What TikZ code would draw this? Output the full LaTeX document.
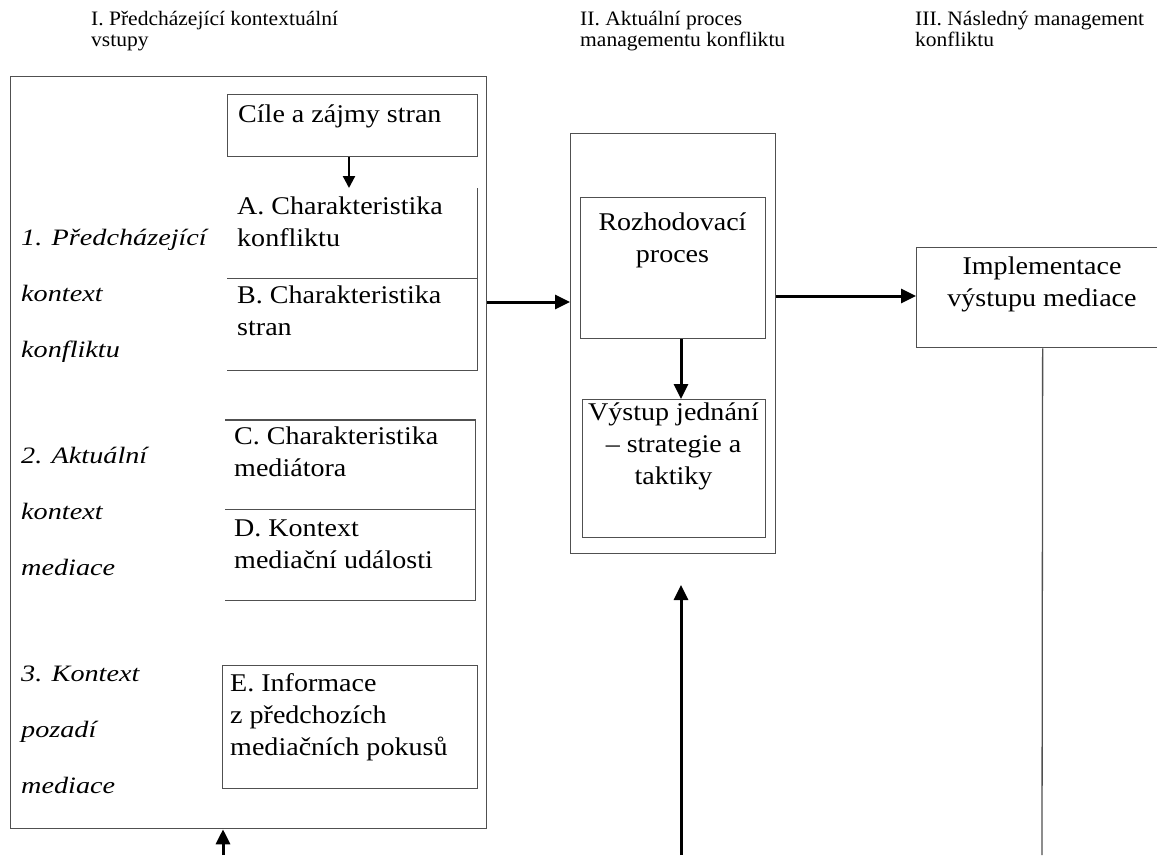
\documentclass[tikz,border=0pt]{standalone}
\usepackage{fontspec}
\setmainfont{Liberation Serif}
\newfontfamily\boxfont{Liberation Serif}[FakeStretch=1.1]
\newfontfamily\headfont{Liberation Serif}[FakeStretch=1.05]
\newfontfamily\sidefont{Liberation Serif}[FakeStretch=1.2]
\usetikzlibrary{arrows.meta}

\definecolor{edge}{HTML}{505050}

% multi-line nodes are placed by the baseline of their last line
\tikzset{
  frame/.style={draw=edge, line width=1.3pt, inner sep=0pt, anchor=north west},
  slot/.style={draw=none, inner sep=0pt, anchor=north west},
  rule/.style={draw=edge, line width=1.3pt},
  boxtext/.style={font=\boxfont\fontsize{25.5}{32}\selectfont, inner sep=0pt},
  heading/.style={font=\headfont\fontsize{20.5}{21}\selectfont, align=left, inner sep=0pt, anchor=base west},
  side/.style={font=\sidefont\itshape\fontsize{23.5}{56}\selectfont, align=left, inner sep=0pt, anchor=base west},
  arr/.style={line width=3pt, -{Triangle[length=15pt,width=14pt]}},
  smallarr/.style={line width=2.2pt, -{Triangle[length=12pt,width=12pt]}}
}

\begin{document}
\begin{tikzpicture}[x=1pt,y=-1pt]
  \useasboundingbox (0,0) rectangle (1157,855);
  \clip (0,0) rectangle (1157,855);

  % column headings
  \node[heading] (h1) at (91,46) {I. Předcházející kontextuální\\vstupy};
  \node[heading] (h2) at (580,46) {II. Aktuální proces\\managementu konfliktu};
  \node[heading] (h3) at (915,46) {III. Následný management\\konfliktu};

  % column I: contextual inputs
  \node[frame, minimum width=476pt, minimum height=752pt] (outer) at (10,76) {};
  \node[frame, minimum width=250pt, minimum height=62pt] (cile) at (227,94) {};
  \node[boxtext, anchor=base west] (cilet) at (238,122) {Cíle a zájmy stran};

  \node[slot, minimum width=250pt, minimum height=90pt] (A) at (227,188) {};
  \node[slot, minimum width=250pt, minimum height=92pt] (B) at (227,278) {};
  \draw[rule] (A.north east) -- (B.south east) -- (B.south west);
  \draw[rule] (A.south west) -- (A.south east);
  \node[boxtext, align=left, anchor=base west] (At) at (237,246) {A. Charakteristika\\konfliktu};
  \node[boxtext, align=left, anchor=base west] (Bt) at (237,335) {B. Charakteristika\\stran};

  \node[slot, minimum width=250pt, minimum height=89pt] (C) at (225,420) {};
  \node[slot, minimum width=250pt, minimum height=91pt] (D) at (225,509) {};
  \draw[rule] (C.north west) -- (C.north east) -- (D.south east) -- (D.south west);
  \draw[rule] (C.south west) -- (C.south east);
  \node[boxtext, align=left, anchor=base west] (Ct) at (234,476) {C. Charakteristika\\mediátora};
  \node[boxtext, align=left, anchor=base west] (Dt) at (234,568) {D. Kontext\\mediační události};

  \node[frame, minimum width=255pt, minimum height=123pt] (E) at (222,665) {};
  \node[boxtext, align=left, anchor=base west] (Et) at (230,755) {E. Informace\\z předchozích\\mediačních pokusů};

  % italic context labels
  \node[side] (s1) at (21,357) {1. Předcházející\\kontext\\konfliktu};
  \node[side] (s2) at (21,575) {2. Aktuální\\kontext\\mediace};
  \node[side] (s3) at (21,793) {3. Kontext\\pozadí\\mediace};

  % column II: the conflict management process
  \node[frame, minimum width=205pt, minimum height=420pt] (mid) at (570,133) {};
  \node[frame, minimum width=185pt, minimum height=141pt] (rozh) at (580,197) {};
  \node[boxtext, align=center, anchor=base] (rozht) at (672.5,262) {Rozhodovací\\proces};
  \node[frame, minimum width=183pt, minimum height=138pt] (vyst) at (582,399) {};
  \node[boxtext, align=center, anchor=base] (vystt) at (673.5,484) {Výstup jednání\\– strategie a\\taktiky};

  % column III: subsequent management
  \node[frame, minimum width=252pt, minimum height=100pt] (impl) at (916,247) {};
  \node[boxtext, align=center, anchor=base] (implt) at (1042,306) {Implementace\\výstupu mediace};

  % connectors
  \coordinate (xc) at (349,0);
  \coordinate (xm) at (681,0);
  \coordinate (y1) at (0,302);
  \coordinate (y2) at (0,296);
  \coordinate (foot1) at (223,855);
  \coordinate (foot2) at (681,855);
  \coordinate (tip2) at (681,585);
  \coordinate (foot3) at (1042,855);

  \draw[smallarr] (cile.south -| xc) -- (A.north -| xc);
  \draw[arr] (outer.east |- y1) -- (mid.west |- y1);
  \draw[arr] (rozh.south -| xm) -- (vyst.north -| xm);
  \draw[arr] (mid.east |- y2) -- (impl.west |- y2);
  \draw[arr] (foot1) -- (outer.south -| foot1);
  \draw[arr] (foot2) -- (tip2);
  \draw[rule] (impl.south) -- (foot3);
\end{tikzpicture}
\end{document}
